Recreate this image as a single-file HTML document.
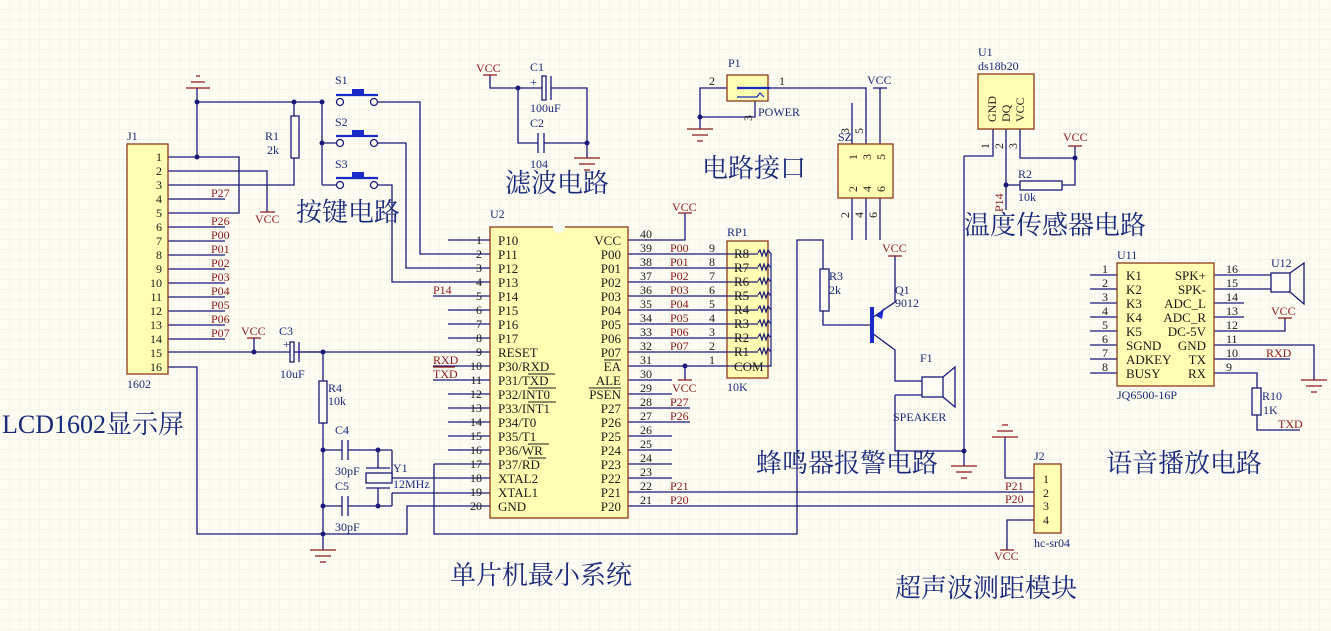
<!DOCTYPE html>
<html><head><meta charset="utf-8"><style>
html,body{margin:0;padding:0;background:#fdfcf2;}
svg{display:block}
text{font-family:"Liberation Serif","Noto Serif CJK SC",serif;}
.n{fill:#1a1a1a;font-size:12px}
.l{fill:#8b1a1a;font-size:12px}
.d{fill:#1a2a7a;font-size:12px}
.t{fill:#1a2a7a;font-size:26px;font-family:"Liberation Serif","Noto Serif CJK SC",serif}
.p{fill:#1a1a1a;font-size:13px}
</style></head><body>
<svg width="1331" height="631" viewBox="0 0 1331 631" xmlns="http://www.w3.org/2000/svg">
<defs>
<pattern id="g" width="10" height="10" patternUnits="userSpaceOnUse">
<path d="M10 0V10M0 10H10" stroke="#eeebe0" stroke-width="1" fill="none"/>
</pattern>
</defs>
<rect width="1331" height="631" fill="#fdfcf2"/>
<rect width="1331" height="631" fill="url(#g)"/>

<g stroke="#1a1a7a" stroke-width="1.3" fill="none">
<path d="M168 157H239V213H168M168 171H267V212M168 185H294V158M168 199H225M168 227H225M168 241H225M168 255H225M168 269H225M168 283H225M168 297H225M168 311H225M168 325H225M168 339H225M168 352H490M168 367H197V534H407V506H490"/>
<path d="M197 88V157M197 102H322V185M322 143H336M322 185H336M294 102V116"/>
<path d="M378 102H420V254H490M378 143H406V268H490M378 185H392V282H490"/>
<path d="M448 240H490M433 296H490M448 310H490M448 324H490M448 338H490"/>
<path d="M433 366H490M433 380H490M448 394H490M448 408H490M448 422H490M448 436H490M448 450H490M434 464H490"/>
<path d="M392 450V478H490M392 493H490M392 493V506"/>
<path d="M434 464V534H797V240H823V269M823 311V325H870"/>
<path d="M254 338V352M323 352V381M323 423V550M323 450H342M348 450H392M323 506H342M348 506H392M378 450V468M378 488V506"/>
<path d="M628 240H685V213M628 254H727M628 268H727M628 282H727M628 296H727M628 310H727M628 324H727M628 338H727M628 352H727M628 366H727M685 366V380M628 380H672M628 394H672M628 408H690M628 422H690M628 436H672M628 450H672M628 464H672M628 478H672M628 492H1034M628 506H1034"/>
<path d="M490 75V88H542M551 88H587V158M518 88V143H538M544 143H587"/>
<path d="M727 88H700V117H755V101M768 88H866V144M852 103V144M880 88V144M852 198V240M866 198V240M880 198V240M700 117V129"/>
<path d="M895 256V302L872 318M872 333L895 350V381H922M895 395H922M895 395V451H964M964 451V466M964 156V451M964 156H993V129M1006 129V210M1006 185H1020M1062 185H1075V146M1020 129V158H1075"/>
<path d="M1005 437V478H1034M1034 520H1007V550"/>
<path d="M1090 275H1117M1090 289H1117M1090 303H1117M1090 317H1117M1090 331H1117M1090 345H1117M1090 359H1117M1090 373H1117"/>
<path d="M1214 275H1271M1214 289H1271M1214 303H1244M1214 317H1244M1214 331H1285V318M1214 345H1314V380M1214 359H1290M1214 373H1257V388M1257 415V430H1300"/>
</g>

<g fill="#1a1a7a">
<circle cx="197" cy="102" r="2.5"/><circle cx="197" cy="157" r="2.5"/><circle cx="294" cy="102" r="2.5"/><circle cx="322" cy="102" r="2.5"/><circle cx="322" cy="143" r="2.5"/>
<circle cx="254" cy="352" r="2.5"/><circle cx="323" cy="352" r="2.5"/><circle cx="323" cy="450" r="2.5"/><circle cx="323" cy="506" r="2.5"/><circle cx="323" cy="534" r="2.5"/>
<circle cx="378" cy="450" r="2.5"/><circle cx="378" cy="506" r="2.5"/><circle cx="685" cy="366" r="2.5"/>
<circle cx="518" cy="88" r="2.5"/><circle cx="587" cy="143" r="2.5"/><circle cx="700" cy="117" r="2.5"/>
<circle cx="964" cy="451" r="2.5"/><circle cx="1006" cy="185" r="2.5"/><circle cx="1075" cy="158" r="2.5"/>
</g>

<g stroke="#8b1a1a" stroke-width="1.3" fill="none">
<path d="M186 88H210M191 82H205M196 76H200"/>
<path d="M260 212H275M247 338H261M678 213H692M678 380H692M483 75H497M888 256H902M1068 146H1082M1278 318H1292M1000 550H1014"/>
<path d="M310 550H336M315 556H331M320 562H326"/>
<path d="M574 158H600M579 164H595M584 170H590"/>
<path d="M687 129H713M692 135H708M697 141H703"/>
<path d="M951 466H977M956 472H972M961 478H967"/>
<path d="M1301 380H1327M1306 386H1322M1311 392H1317"/>
<path d="M992 437H1018M997 431H1013M1002 425H1008"/>
<path d="M433 367H455"/>
</g>
<path d="M873 88H887" stroke="#1a1a7a" stroke-width="1.3"/>

<g fill="#ffffb4" stroke="#8b3a1a" stroke-width="1.3">
<rect x="127" y="144" width="41" height="230"/>
<rect x="490" y="227" width="138" height="291"/>
<rect x="727" y="241" width="41" height="137"/>
<rect x="727" y="75" width="41" height="26"/>
<rect x="838" y="144" width="55" height="54"/>
<rect x="978" y="74" width="56" height="55"/>
<rect x="1034" y="464" width="27" height="69"/>
<rect x="1117" y="263" width="97" height="123"/>
</g>
<circle cx="559" cy="227" r="6" fill="#fdfcf2"/>

<!-- RP1 internal lines over box -->
<g stroke="#1a1a7a" stroke-width="1.2" fill="none">
<path d="M727 254H758M727 268H758M727 282H758M727 296H758M727 310H758M727 324H758M727 338H758M727 352H758M727 366H771V253"/>
<path d="M758 253l2 -3l2 6l2 -6l2 6l2 -6l2 3h1M758 267l2 -3l2 6l2 -6l2 6l2 -6l2 3h1M758 281l2 -3l2 6l2 -6l2 6l2 -6l2 3h1M758 295l2 -3l2 6l2 -6l2 6l2 -6l2 3h1M758 309l2 -3l2 6l2 -6l2 6l2 -6l2 3h1M758 323l2 -3l2 6l2 -6l2 6l2 -6l2 3h1M758 337l2 -3l2 6l2 -6l2 6l2 -6l2 3h1M758 351l2 -3l2 6l2 -6l2 6l2 -6l2 3h1"/>
</g>

<g stroke="#1a1a7a" stroke-width="1.3" fill="#fdfcf2">
<rect x="291" y="116" width="8" height="42"/>
<rect x="319" y="381" width="8" height="42"/>
<rect x="820" y="269" width="9" height="42"/>
<rect x="1020" y="181" width="42" height="9"/>
<rect x="1252" y="388" width="9" height="27"/>
<rect x="290" y="342" width="4" height="20"/>
<rect x="542" y="76" width="4" height="24"/>
<rect x="366" y="473" width="26" height="10"/>
<rect x="922" y="377" width="21" height="20"/>
<rect x="1271" y="273" width="19" height="19"/>
<circle cx="340" cy="102" r="3.5"/><circle cx="374" cy="102" r="3.5"/>
<circle cx="340" cy="143" r="3.5"/><circle cx="374" cy="143" r="3.5"/>
<circle cx="340" cy="185" r="3.5"/><circle cx="374" cy="185" r="3.5"/>
</g>
<g stroke="#1a1a7a" stroke-width="1.3" fill="none">
<path d="M299 342V362M300 352H323M551 76V100M538 133V153M544 133V153M342 440V460M348 440V460M342 496V516M348 496V516M366 468H390M366 488H390"/>
<path d="M943 377L955 367V407L943 397M1290 273L1304 263V304L1290 292"/>
</g>
<g stroke="#1a2ac8" stroke-width="2.2" fill="none">
<path d="M336 95H378M336 136H378M336 178H378"/>
<path d="M737 88H770"/>
</g>
<g fill="#1a2ac8"><rect x="352" y="89" width="12" height="6"/><rect x="352" y="130" width="12" height="6"/><rect x="352" y="172" width="12" height="6"/>
<rect x="870" y="307" width="4" height="36"/><path d="M876 316l8 -8l-2 11z"/></g>
<path d="M737 97H757l3 -4l4 4" stroke="#1a2ac8" stroke-width="1.2" fill="none"/>

<g class="n" text-anchor="end">
<text x="162" y="161">1</text><text x="162" y="175">2</text><text x="162" y="189">3</text><text x="162" y="203">4</text><text x="162" y="217">5</text><text x="162" y="231">6</text><text x="162" y="245">7</text><text x="162" y="259">8</text><text x="162" y="273">9</text><text x="162" y="287">10</text><text x="162" y="301">11</text><text x="162" y="315">12</text><text x="162" y="329">13</text><text x="162" y="343">14</text><text x="162" y="357">15</text><text x="162" y="371">16</text>
</g>
<g class="l">
<text x="211" y="197">P27</text><text x="211" y="225">P26</text><text x="211" y="239">P00</text><text x="211" y="253">P01</text><text x="211" y="267">P02</text><text x="211" y="281">P03</text><text x="211" y="295">P04</text><text x="211" y="309">P05</text><text x="211" y="323">P06</text><text x="211" y="337">P07</text>
<text x="255" y="223">VCC</text><text x="241" y="335">VCC</text><text x="433" y="294">P14</text><text x="433" y="364">RXD</text><text x="433" y="378">TXD</text>
<text x="476" y="72">VCC</text><text x="672" y="211">VCC</text><text x="672" y="392">VCC</text>
<text x="670" y="252">P00</text><text x="670" y="266">P01</text><text x="670" y="280">P02</text><text x="670" y="294">P03</text><text x="670" y="308">P04</text><text x="670" y="322">P05</text><text x="670" y="336">P06</text><text x="670" y="350">P07</text>
<text x="670" y="406">P27</text><text x="670" y="420">P26</text><text x="670" y="490">P21</text><text x="670" y="504">P20</text>
<text x="882" y="252">VCC</text><text x="1063" y="141">VCC</text><text x="1005" y="490">P21</text><text x="1005" y="503">P20</text><text x="994" y="560">VCC</text>
<text x="1271" y="315">VCC</text><text x="1266" y="357">RXD</text><text x="1278" y="428">TXD</text>
<text transform="translate(1003,212) rotate(-90)">P14</text>
</g>
<text x="867" y="84" class="d">VCC</text>

<g class="d">
<text x="127" y="140">J1</text><text x="127" y="388">1602</text>
<text x="265" y="140">R1</text><text x="267" y="154">2k</text>
<text x="335" y="84">S1</text><text x="335" y="126">S2</text><text x="335" y="168">S3</text>
<text x="279" y="335">C3</text><text x="280" y="378">10uF</text>
<text x="328" y="392">R4</text><text x="328" y="405">10k</text>
<text x="335" y="434">C4</text><text x="335" y="475">30pF</text><text x="335" y="490">C5</text><text x="335" y="531">30pF</text>
<text x="393" y="472">Y1</text><text x="393" y="488">12MHz</text>
<text x="490" y="218">U2</text>
<text x="530" y="71">C1</text><text x="530" y="112">100uF</text><text x="530" y="127">C2</text><text x="530" y="168">104</text>
<text x="727" y="236">RP1</text><text x="727" y="391">10K</text>
<text x="728" y="67">P1</text><text x="758" y="116">POWER</text>
<text x="838" y="141">SZ</text>
<text x="829" y="280">R3</text><text x="829" y="294">2k</text>
<text x="895" y="294">Q1</text><text x="895" y="307">9012</text>
<text x="920" y="362">F1</text><text x="893" y="421">SPEAKER</text>
<text x="978" y="56">U1</text><text x="978" y="70">ds18b20</text>
<text x="1018" y="178">R2</text><text x="1018" y="201">10k</text>
<text x="1034" y="460">J2</text><text x="1034" y="547">hc-sr04</text>
<text x="1117" y="259">U11</text><text x="1117" y="399">JQ6500-16P</text>
<text x="1271" y="267">U12</text>
<text x="1262" y="400">R10</text><text x="1263" y="414">1K</text>
</g>
<g class="d" font-size="11"><text x="283" y="348">+</text><text x="530" y="86">+</text></g>

<g class="n" text-anchor="end">
<text x="482" y="244">1</text><text x="482" y="258">2</text><text x="482" y="272">3</text><text x="482" y="286">4</text><text x="482" y="300">5</text><text x="482" y="314">6</text><text x="482" y="328">7</text><text x="482" y="342">8</text><text x="482" y="356">9</text><text x="482" y="370">10</text><text x="482" y="384">11</text><text x="482" y="398">12</text><text x="482" y="412">13</text><text x="482" y="426">14</text><text x="482" y="440">15</text><text x="482" y="454">16</text><text x="482" y="468">17</text><text x="482" y="482">18</text><text x="482" y="496">19</text><text x="482" y="510">20</text>
</g>
<g class="n">
<text x="640" y="238">40</text><text x="640" y="252">39</text><text x="640" y="266">38</text><text x="640" y="280">37</text><text x="640" y="294">36</text><text x="640" y="308">35</text><text x="640" y="322">34</text><text x="640" y="336">33</text><text x="640" y="350">32</text><text x="640" y="364">31</text><text x="640" y="378">30</text><text x="640" y="392">29</text><text x="640" y="406">28</text><text x="640" y="420">27</text><text x="640" y="434">26</text><text x="640" y="448">25</text><text x="640" y="462">24</text><text x="640" y="476">23</text><text x="640" y="490">22</text><text x="640" y="504">21</text>
<text x="709" y="252">9</text><text x="709" y="266">8</text><text x="709" y="280">7</text><text x="709" y="294">6</text><text x="709" y="308">5</text><text x="709" y="322">4</text><text x="709" y="336">3</text><text x="709" y="350">2</text><text x="709" y="364">1</text>
<text x="709" y="85">2</text><text x="779" y="85">1</text>
</g>
<g class="p">
<text x="498" y="245">P10</text><text x="498" y="259">P11</text><text x="498" y="273">P12</text><text x="498" y="287">P13</text><text x="498" y="301">P14</text><text x="498" y="315">P15</text><text x="498" y="329">P16</text><text x="498" y="343">P17</text><text x="498" y="357">RESET</text><text x="498" y="371">P30/RXD</text><text x="498" y="385">P31/TXD</text><text x="498" y="399">P32/INT0</text><text x="498" y="413">P33/INT1</text><text x="498" y="427">P34/T0</text><text x="498" y="441">P35/T1</text><text x="498" y="455">P36/WR</text><text x="498" y="469">P37/RD</text><text x="498" y="483">XTAL2</text><text x="498" y="497">XTAL1</text><text x="498" y="511">GND</text>
</g>
<g class="p" text-anchor="end">
<text x="621" y="245">VCC</text><text x="621" y="259">P00</text><text x="621" y="273">P01</text><text x="621" y="287">P02</text><text x="621" y="301">P03</text><text x="621" y="315">P04</text><text x="621" y="329">P05</text><text x="621" y="343">P06</text><text x="621" y="357">P07</text><text x="621" y="371">EA</text><text x="621" y="385">ALE</text><text x="621" y="399">PSEN</text><text x="621" y="413">P27</text><text x="621" y="427">P26</text><text x="621" y="441">P25</text><text x="621" y="455">P24</text><text x="621" y="469">P23</text><text x="621" y="483">P22</text><text x="621" y="497">P21</text><text x="621" y="511">P20</text>
</g>
<g stroke="#1a1a1a" stroke-width="0.9">
<path d="M528 374H555M528 388H556M528 402H556M528 444H549M528 458H546M604 360H621M589 388H621"/>
</g>
<g class="p">
<text x="734" y="258">R8</text><text x="734" y="272">R7</text><text x="734" y="286">R6</text><text x="734" y="300">R5</text><text x="734" y="314">R4</text><text x="734" y="328">R3</text><text x="734" y="342">R2</text><text x="734" y="356">R1</text><text x="734" y="371">COM</text>
</g>

<g class="n">
<text transform="translate(996,122) rotate(-90)">GND</text>
<text transform="translate(1010,122) rotate(-90)">DQ</text>
<text transform="translate(1024,122) rotate(-90)">VCC</text>
<text transform="translate(989,149) rotate(-90)">1</text>
<text transform="translate(1003,149) rotate(-90)">2</text>
<text transform="translate(1017,149) rotate(-90)">3</text>
<text transform="translate(857,160) rotate(-90)">1</text><text transform="translate(871,160) rotate(-90)">3</text><text transform="translate(885,160) rotate(-90)">5</text>
<text transform="translate(857,192) rotate(-90)">2</text><text transform="translate(871,192) rotate(-90)">4</text><text transform="translate(885,192) rotate(-90)">6</text>
<text transform="translate(849,134) rotate(-90)">3</text><text transform="translate(863,134) rotate(-90)">5</text>
<text transform="translate(849,218) rotate(-90)">2</text><text transform="translate(863,218) rotate(-90)">4</text><text transform="translate(877,218) rotate(-90)">6</text>
<text transform="translate(752,121) rotate(-90)">3</text>
</g>

<g class="n">
<text x="1043" y="483">1</text><text x="1043" y="497">2</text><text x="1043" y="510">3</text><text x="1043" y="524">4</text>
</g>
<g class="n" text-anchor="end">
<text x="1108" y="273">1</text><text x="1108" y="287">2</text><text x="1108" y="301">3</text><text x="1108" y="315">4</text><text x="1108" y="329">5</text><text x="1108" y="343">6</text><text x="1108" y="357">7</text><text x="1108" y="371">8</text>
</g>
<g class="n">
<text x="1226" y="273">16</text><text x="1226" y="287">15</text><text x="1226" y="301">14</text><text x="1226" y="315">13</text><text x="1226" y="329">12</text><text x="1226" y="343">11</text><text x="1226" y="357">10</text><text x="1226" y="371">9</text>
</g>
<g class="p">
<text x="1126" y="280">K1</text><text x="1126" y="294">K2</text><text x="1126" y="308">K3</text><text x="1126" y="322">K4</text><text x="1126" y="336">K5</text><text x="1126" y="350">SGND</text><text x="1126" y="364">ADKEY</text><text x="1126" y="378">BUSY</text>
</g>
<g class="p" text-anchor="end">
<text x="1206" y="280">SPK+</text><text x="1206" y="294">SPK-</text><text x="1206" y="308">ADC_L</text><text x="1206" y="322">ADC_R</text><text x="1206" y="336">DC-5V</text><text x="1206" y="350">GND</text><text x="1206" y="364">TX</text><text x="1206" y="378">RX</text>
</g>

<g class="t">
<text x="296" y="221">按键电路</text>
<text x="505" y="192">滤波电路</text>
<text x="702" y="177">电路接口</text>
<text x="964" y="234">温度传感器电路</text>
<text x="2" y="433">LCD1602显示屏</text>
<text x="756" y="472">蜂鸣器报警电路</text>
<text x="1106" y="472">语音播放电路</text>
<text x="450" y="584">单片机最小系统</text>
<text x="895" y="597">超声波测距模块</text>
</g>
</svg>
</body></html>
